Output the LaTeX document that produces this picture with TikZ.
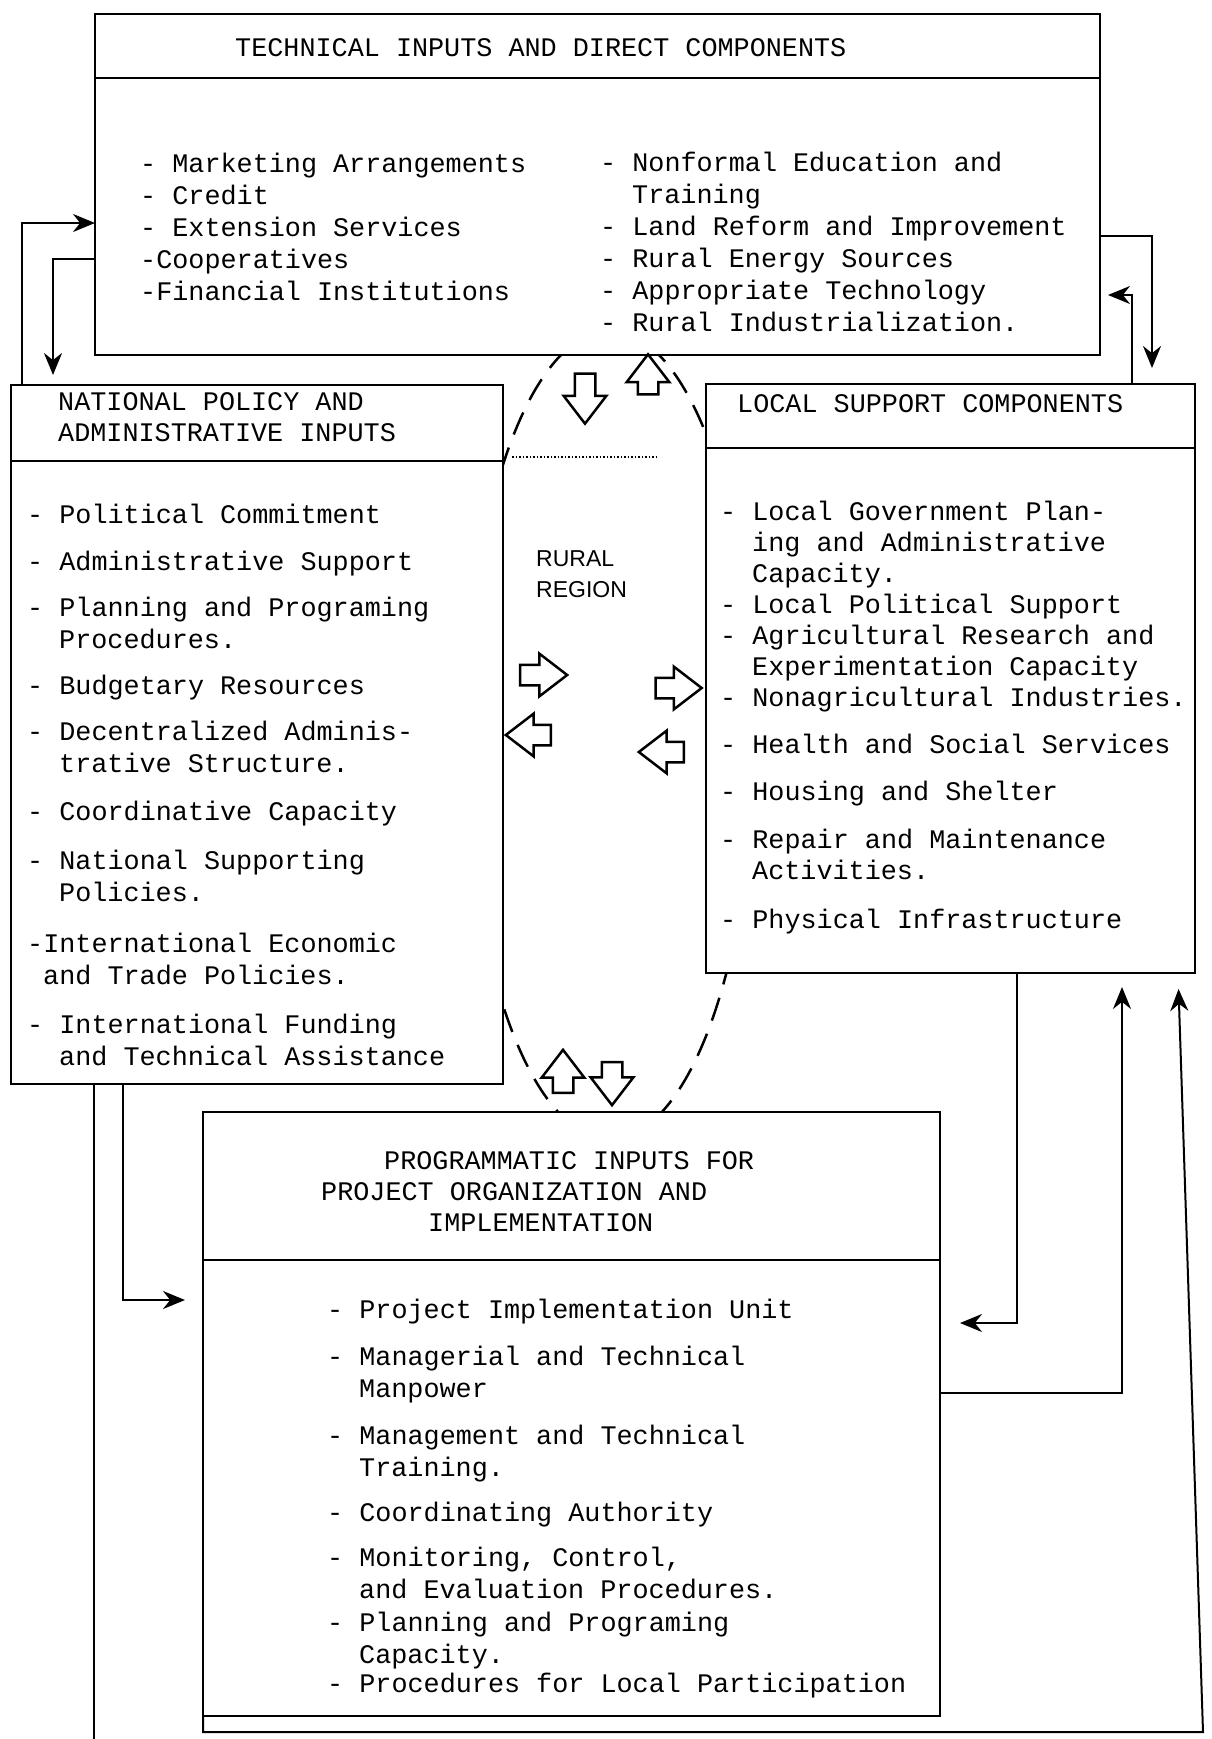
\documentclass[tikz,border=0pt]{standalone}
\usepackage{fontspec}
\setmonofont{Liberation Mono}
\newfontfamily\regionfont{Liberation Sans}
\usepackage{tikz}
\usetikzlibrary{shapes.arrows,arrows.meta,positioning}

\newcommand{\contline}{\hspace*{32pt}}

\begin{document}
\begin{tikzpicture}[
    x=1pt, y=-1pt,
    boxpart/.style={rectangle, draw, line width=2.5pt, fill=white, inner sep=0pt, outer sep=0pt},
    heading/.style={anchor=north west, inner sep=0pt, align=left, execute at begin node={\strut}, font=\ttfamily\fontsize{26.8pt}{31pt}\selectfont},
    items/.style={anchor=north west, inner sep=0pt, align=left, execute at begin node={\strut}, font=\ttfamily\fontsize{26.8pt}{32pt}\selectfont},
    flow/.style={line width=2pt, -{Stealth[length=22pt,width=18pt]}},
    wire/.style={line width=2pt},
    hollow/.style={single arrow, draw, line width=2.5pt, fill=white, inner xsep=0pt, inner ysep=9pt,
        minimum width=40pt, single arrow head extend=11pt, single arrow tip angle=75}
]
    \useasboundingbox (0,0) rectangle (1211,1739);

    % rural region behind the boxes
    \draw[line width=2.5pt, dash pattern=on 24pt off 14pt] (610,735) ellipse [x radius=144, y radius=404];
    \draw[line width=1.5pt, dotted] (512,457) -- (657,457);
    \node[anchor=north west, align=left, inner sep=0pt, execute at begin node={\strut}, font=\regionfont\fontsize{23pt}{31pt}\selectfont] (rural) at (536,550) {RURAL\\REGION};

    % boxes: heading part + body part
    \node[boxpart, minimum width=1005pt, minimum height=64pt] (techH) at (597.5,46) {};
    \node[boxpart, minimum width=1005pt, minimum height=277pt, below=0pt of techH] (tech) {};

    \node[boxpart, minimum width=492pt, minimum height=76pt] (natH) at (257,423) {};
    \node[boxpart, minimum width=492pt, minimum height=623pt, below=0pt of natH] (nat) {};

    \node[boxpart, minimum width=489pt, minimum height=64pt] (locH) at (950.5,416) {};
    \node[boxpart, minimum width=489pt, minimum height=525pt, below=0pt of locH] (loc) {};

    \node[boxpart, minimum width=737pt, minimum height=148pt] (progH) at (571.5,1186) {};
    \node[boxpart, minimum width=737pt, minimum height=456pt, below=0pt of progH] (prog) {};

    % texts
    \node[heading] (techT) at (235,34.3) {TECHNICAL INPUTS AND DIRECT COMPONENTS};
    \node[items] (techL) at (140,152.6) {- Marketing Arrangements\\- Credit\\- Extension Services\\-Cooperatives\\-Financial Institutions};
    \node[items] (techR) at (600,151.6) {- Nonformal Education and\\\contline Training\\- Land Reform and Improvement\\- Rural Energy Sources\\- Appropriate Technology\\- Rural Industrialization.};

    \node[heading] (natT) at (58,392.3) {NATIONAL POLICY AND\\ADMINISTRATIVE INPUTS};
    \node[items] (natL) at (27,503.6) {- Political Commitment\\[15pt]- Administrative Support\\[14pt]- Planning and Programing\\\contline Procedures.\\[14pt]- Budgetary Resources\\[14pt]- Decentralized Adminis-\\\contline trative Structure.\\[16pt]- Coordinative Capacity\\[17pt]- National Supporting\\\contline Policies.\\[19pt]-International Economic\\\hspace*{16pt}and Trade Policies.\\[17pt]- International Funding\\\contline and Technical Assistance};

    \node[heading] (locT) at (737,390.3) {LOCAL SUPPORT COMPONENTS};
    \node[items, font=\ttfamily\fontsize{26.8pt}{31pt}\selectfont] (locL) at (720,501.3) {- Local Government Plan-\\\contline ing and Administrative\\\contline Capacity.\\- Local Political Support\\- Agricultural Research and\\\contline Experimentation Capacity\\- Nonagricultural Industries.\\[16pt]- Health and Social Services\\[16pt]- Housing and Shelter\\[17pt]- Repair and Maintenance\\\contline Activities.\\[18pt]- Physical Infrastructure};

    \node[heading] (progT) at (321,1151.3) {\hspace*{63pt}PROGRAMMATIC INPUTS FOR\\PROJECT ORGANIZATION AND\\\hspace*{107pt}IMPLEMENTATION};
    \node[items] (progL) at (327,1298.6) {- Project Implementation Unit\\[15pt]- Managerial and Technical\\\contline Manpower\\[15pt]- Management and Technical\\\contline Training.\\[13pt]- Coordinating Authority\\[13pt]- Monitoring, Control,\\\contline and Evaluation Procedures.\\[1pt]- Planning and Programing\\\contline Capacity.\\[-3pt]- Procedures for Local Participation};

    % exchanges with the rural region
    \node[hollow, rotate=-90, minimum height=50pt] (inTop) at (585,392) {};
    \node[hollow, rotate=90, minimum height=40pt] (outTop) at (648,381) {};
    \node[hollow, minimum height=47pt] (inLeft) at (537,675) {};
    \node[hollow, rotate=180, minimum height=45pt] (outLeft) at (535,735) {};
    \node[hollow, minimum height=46pt] (outRight) at (672,688) {};
    \node[hollow, rotate=180, minimum height=45pt] (inRight) at (668,752) {};
    \node[hollow, rotate=90, minimum height=43pt] (outBot) at (563,1078) {};
    \node[hollow, rotate=-90, minimum height=43pt] (inBot) at (612,1077) {};

    % connectors between the boxes
    \coordinate (natEnd) at (94,1739);
    \coordinate (loopCorner) at (1203,1732);
    \draw[flow] ([xshift=11pt]natH.north west) |- (tech.west |- 0,223);
    \draw[flow, shorten >=10pt] (tech.west |- 0,259) -| ([xshift=42pt]natH.north west);
    \draw[flow, shorten >=16pt] (tech.east |- 0,236) -| ([xshift=-43pt]locH.north east);
    \draw[flow, shorten >=8pt] ([xshift=-63pt]locH.north east) |- (tech.east |- 0,295);
    \draw[flow, shorten >=18pt] ([xshift=112pt]nat.south west) |- (prog.west |- 0,1300);
    \draw[wire] ([xshift=83pt]nat.south west) -- (natEnd);
    \draw[flow, shorten >=20pt] ([xshift=-178pt]loc.south east) |- (prog.east |- 0,1323);
    \draw[flow, shorten >=14pt] (prog.east |- 0,1393) -| ([xshift=-73pt]loc.south east);
    \draw[flow, shorten >=16pt] (prog.south west) |- (loopCorner) -- ([xshift=-17pt]loc.south east);
\end{tikzpicture}
\end{document}
